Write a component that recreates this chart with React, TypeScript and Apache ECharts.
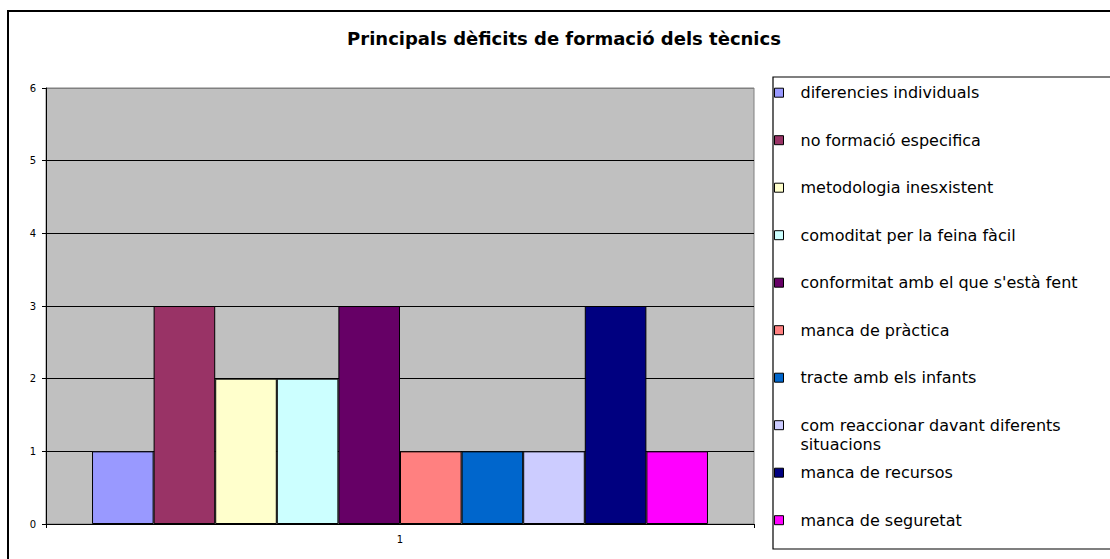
import React, { useEffect, useRef } from "react";
import * as echarts from "echarts";

const categories = ["1"];
const seriesNames = [
  "diferencies individuals",
  "no formació especifica",
  "metodologia inesxistent",
  "comoditat per la feina fàcil",
  "conformitat amb el que s'està fent",
  "manca de pràctica",
  "tracte amb els infants",
  "com reaccionar davant diferents situacions",
  "manca de recursos",
  "manca de seguretat",
];
const seriesValues = [1, 3, 2, 2, 3, 1, 1, 1, 3, 1];
const seriesColors = [
  "#9999FF",
  "#993366",
  "#FFFFCC",
  "#CCFFFF",
  "#660066",
  "#FF8080",
  "#0066CC",
  "#CCCCFF",
  "#000080",
  "#FF00FF",
];
const titleText = "Principals dèficits de formació dels tècnics";

const FONT = "'DejaVu Sans', 'Liberation Sans', Arial, sans-serif";

export default function App() {
  const ref = useRef<HTMLDivElement>(null);

  useEffect(() => {
    document.body.style.margin = "0";
    if (!ref.current) return;
    const chart = echarts.init(ref.current, null, { renderer: "svg" });

    const legends = seriesNames.map((name, i) => {
      const center = 92.7 + i * 47.5;
      const isWrapped = name === "com reaccionar davant diferents situacions";
      return {
        show: true,
        data: [name],
        orient: "vertical",
        left: 774,
        top: isWrapped ? center - 28.5 : center - 8,
        padding: 0,
        icon: "rect",
        itemWidth: 9,
        itemHeight: 9,
        itemStyle: { borderColor: "#000", borderWidth: 1 },
        formatter: isWrapped
          ? () => "\ncom reaccionar davant diferents\nsituacions"
          : undefined,
        textStyle: {
          color: "#000",
          fontFamily: FONT,
          fontSize: 16,
          lineHeight: isWrapped ? 19 : 16,
          padding: [0, 0, 0, 12],
        },
      };
    });

    const option: any = {
      animation: false,
      backgroundColor: "#fff",
      textStyle: { fontFamily: FONT },
      grid: {
        left: 46,
        top: 88,
        width: 708,
        height: 436,
        show: true,
        backgroundColor: "#C0C0C0",
        borderColor: "#808080",
        borderWidth: 1,
      },
      legend: legends,
      xAxis: {
        type: "category",
        data: categories,
        axisLine: { lineStyle: { color: "#000", width: 1 } },
        axisTick: { show: true, length: 4, lineStyle: { color: "#000" } },
        axisLabel: { color: "#000", fontSize: 10, margin: 10, fontFamily: FONT },
      },
      yAxis: {
        type: "value",
        min: 0,
        max: 6,
        interval: 1,
        axisLine: { show: true, lineStyle: { color: "#000", width: 1 } },
        axisTick: { show: true, length: 4, lineStyle: { color: "#000" } },
        axisLabel: { color: "#000", fontSize: 10, margin: 10, fontFamily: FONT },
        splitLine: {
          show: true,
          lineStyle: {
            color: ["#000", "#000", "#000", "#000", "#000", "#000", "#808080"],
            width: 1,
          },
        },
      },
      series: seriesNames.map((name, i) => ({
        name,
        type: "bar",
        data: [seriesValues[i]],
        barGap: "0%",
        barCategoryGap: "13%",
        itemStyle: {
          color: seriesColors[i],
          borderColor: "#000",
          borderWidth: 1,
        },
      })),
      graphic: [
        {
          type: "rect",
          silent: true,
          shape: { x: 8, y: 11, width: 1130, height: 600 },
          style: { fill: "none", stroke: "#000", lineWidth: 2 },
          z: -1,
        },
        {
          type: "rect",
          silent: true,
          shape: { x: 773, y: 77, width: 400, height: 472 },
          style: { fill: "none", stroke: "#000", lineWidth: 1.2 },
        },
        {
          type: "text",
          silent: true,
          x: 564,
          y: 38,
          style: {
            text: titleText,
            align: "center",
            verticalAlign: "middle",
            fill: "#000",
            fontFamily: FONT,
            fontWeight: "bold",
            fontSize: 18,
          },
        },
      ],
    };

    chart.setOption(option);
    return () => chart.dispose();
  }, []);

  return <div ref={ref} style={{ width: 1110, height: 559 }} />;
}
